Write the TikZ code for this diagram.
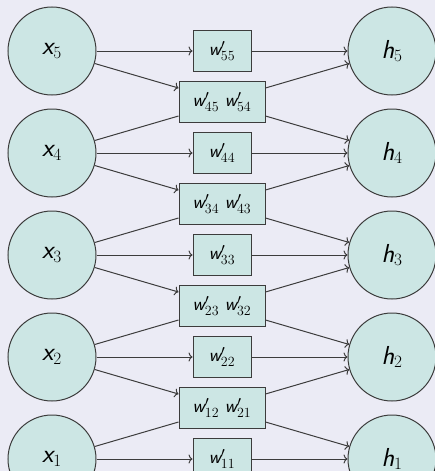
\documentclass[tikz,border=0pt]{standalone}
\usetikzlibrary{calc,arrows.meta}
\definecolor{bgcol}{RGB}{235,235,245}
\definecolor{nodefill}{RGB}{204,230,228}
\definecolor{linecol}{RGB}{60,60,60}
\newcommand{\svar}[1]{\mbox{\sffamily\itshape #1}}
% weight label: sans italic w, prime, roman subscript
\newcommand{\wlab}[1]{$\svar{w}^{\prime}_{\mbox{\fontsize{14}{16}\selectfont\rmfamily #1}}$}
\begin{document}
\begin{tikzpicture}[x=1pt,y=-1pt,line width=1pt,
  >={To[length=4pt,width=9pt]},
  unit/.style={circle,draw=linecol,fill=nodefill,minimum size=88pt,inner sep=0pt,
    font=\fontsize{26}{30}\selectfont},
  wbox/.style={rectangle,draw=linecol,fill=nodefill,minimum height=41pt,minimum width=58pt,
    inner sep=0pt,font=\fontsize{19}{22}\selectfont},
  wpair/.style={wbox,minimum width=86pt},
  conn/.style={draw=linecol},
  arr/.style={conn,->}]
  \fill[bgcol] (0,0) rectangle (435,471);
  \clip (0,0) rectangle (435,471);

  % input and hidden units
  \foreach \i/\y in {5/51,4/153,3/255,2/357,1/459}{
    \node[unit] (x\i) at (52,\y) {$\svar{x}_{\i}$};
    \node[unit] (h\i) at (392,\y) {$\svar{h}_{\i}$};
    \node[wbox] (b\i\i) at (222,\y) {\wlab{\i\i}};
    \draw[arr] (x\i) -- (b\i\i);
    \draw[arr] (b\i\i) -- (h\i);
  }

  % shared weights between neighbouring units
  \foreach \i/\j/\y in {5/4/102,4/3/204,3/2/306,2/1/408}{
    \node[wpair] (b\j\i) at (222,\y) {\wlab{\j\i} \wlab{\i\j}};
    \coordinate (lt\j\i) at ($(b\j\i.north west)+(0,7)$);
    \coordinate (lb\j\i) at ($(b\j\i.south west)+(0,-7)$);
    \coordinate (rt\j\i) at ($(b\j\i.north east)+(0,7)$);
    \coordinate (rb\j\i) at ($(b\j\i.south east)+(0,-7)$);
    \draw[arr] (x\i) -- (lt\j\i);
    \draw[conn] (x\j) -- (lb\j\i);
    \draw[arr] (rt\j\i) -- (h\i);
    \draw[arr] (rb\j\i) -- (h\j);
  }
\end{tikzpicture}
\end{document}
